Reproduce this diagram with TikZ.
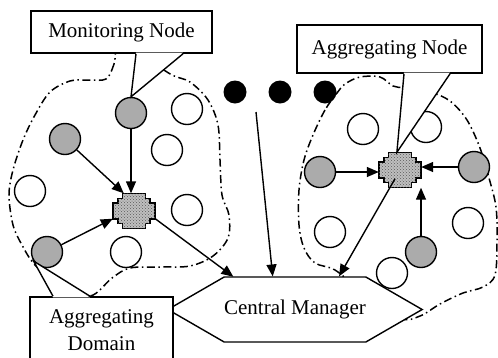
\documentclass[tikz,border=0pt]{standalone}
\usepackage{fontspec}
\setmainfont{Liberation Serif}
\usetikzlibrary{arrows.meta,shapes.symbols,patterns}
\begin{document}
\begin{tikzpicture}[x=1pt,y=-1pt,
  every node/.style={font=\fontsize{21}{27}\selectfont},
  conn/.style={line width=1.4pt,-{Triangle[length=12pt,width=10pt]}},
  plain/.style={circle,draw,line width=1.4pt,fill=white,minimum size=31pt,inner sep=0pt},
  active/.style={plain,fill=black!33},
  blackdot/.style={circle,fill=black,minimum size=23pt,inner sep=0pt},
  crossnode/.style={minimum width=42pt,minimum height=35pt,inner sep=0pt},
  labelbox/.style={draw,line width=1.6pt,fill=white,inner sep=0pt},
  domainline/.style={line width=1.5pt,dash pattern=on 8pt off 3.5pt on 1.5pt off 3.5pt},
  crossbody/.style={draw,line width=1.4pt,fill=black!25,postaction={pattern=crosshatch dots,pattern color=black!65}},
  ptr/.style={line width=1.4pt}
]
\useasboundingbox (0,0) rectangle (498,357);
\clip (0,0) rectangle (498,357);

% domain boundaries
\draw[domainline] plot[smooth cycle,tension=0.55] coordinates {(118,45) (114,64) (106,79) (88,80) (70,81) (50,92) (35,115) (23,140) (13,170) (9,195) (13,225) (22,245) (35,265) (60,285) (90,296) (112,278) (130,268) (160,267) (190,266) (213,256) (228,238) (229,215) (222,195) (220,160) (218,125) (208,100) (190,82) (172,75) (150,60) (135,45)};
\draw[domainline] plot[smooth cycle,tension=0.55] coordinates {(337,93) (325,110) (313,135) (304,160) (299,190) (299,225) (304,248) (315,263) (335,270) (360,290) (400,318) (420,316) (440,304) (463,293) (483,287) (495,275) (497,240) (496,207) (489,178) (480,148) (467,120) (450,101) (430,92) (405,88) (393,86) (380,77) (360,77) (345,84)};

% nodes
\node[active] (mon) at (131,113) {};
\node[active] (g1) at (65,139) {};
\node[active] (g2) at (47,252) {};
\node[active] (g3) at (320,172) {};
\node[active] (g4) at (474,167) {};
\node[active] (g5) at (421,252) {};
\node[plain] (w1) at (187,109) {};
\node[plain] (w2) at (167,150) {};
\node[plain] (w3) at (30,191) {};
\node[plain] (w4) at (187,210) {};
\node[plain] (w5) at (126,252) {};
\node[plain] (w6) at (363,129) {};
\node[plain] (w7) at (426,127) {};
\node[plain] (w8) at (330,232) {};
\node[plain] (w9) at (468,223) {};
\node[plain] (w10) at (392,273) {};
\node[blackdot] (d1) at (235,92) {};
\node[blackdot] (d2) at (280,92) {};
\node[blackdot] (d3) at (325,92) {};

% aggregating nodes (crosses)
\node[crossnode] (ac1) at (134,211) {};
\node[crossnode] (ac2) at (400,170) {};
\foreach \c in {ac1,ac2}
  \path[crossbody,shift={(\c)}] (-11.5,-17.5) -- (11.5,-17.5) -- (11.5,-12.5) -- (16,-12.5) -- (16,-8) -- (21,-8) -- (21,8) -- (16,8) -- (16,12.5) -- (11.5,12.5) -- (11.5,17.5) -- (-11.5,17.5) -- (-11.5,12.5) -- (-16,12.5) -- (-16,8) -- (-21,8) -- (-21,-8) -- (-16,-8) -- (-16,-12.5) -- (-11.5,-12.5) -- cycle;

% central manager
\node[draw,line width=1.4pt,fill=white,signal,signal to=west and east,signal pointer angle=60,minimum width=240pt,minimum height=65pt,inner sep=0pt] (cm) at (295,309.5) {Central Manager};

% connectors
\coordinate (top) at (256,112);
\draw[conn] (mon) -- (mon |- ac1.north);
\draw[conn] (g1) -- (ac1.120);
\draw[conn] (g2) -- (ac1.200);
\draw[conn] (ac1.-20) -- (cm.152);
\draw[conn] (top) -- (cm.124);
\draw[conn,shorten <=10pt] (ac2.center) -- (cm.37);
\draw[conn] (g3) -- (g3 -| ac2.west);
\draw[conn] (g4) -- (g4 -| ac2.east);
\draw[conn] (g5) -- (g5 |- ac2.south);

% callouts
\node[labelbox,minimum width=181pt,minimum height=42pt] (monbox) at (121.5,32) {Monitoring Node};
\fill[white] ([xshift=14.5pt,yshift=1.2pt]monbox.south) -- ([xshift=61.5pt,yshift=1.2pt]monbox.south) -- (mon.north) -- cycle;
\draw[ptr] ([xshift=14.5pt]monbox.south) -- (mon.north) -- ([xshift=61.5pt]monbox.south);

\node[labelbox,minimum width=185pt,minimum height=48pt] (aggbox) at (389.5,49) {Aggregating Node};
\fill[white] ([xshift=14.5pt,yshift=1.2pt]aggbox.south) -- ([xshift=60.5pt,yshift=1.2pt]aggbox.south) -- (ac2.100) -- cycle;
\draw[ptr] ([xshift=14.5pt]aggbox.south) -- (ac2.100) -- ([xshift=60.5pt]aggbox.south);

\node[labelbox,minimum width=143pt,minimum height=73pt] (dombox) at (101.5,333.5) {};
\node[align=center,inner sep=0pt] (domtext) at (101.5,330) {Aggregating\\Domain};
\fill[white] ([xshift=-48.5pt,yshift=-1.2pt]dombox.north) -- ([xshift=-11.5pt,yshift=-1.2pt]dombox.north) -- (g2.214) -- cycle;
\draw[ptr] ([xshift=-48.5pt]dombox.north) -- (g2.214) -- ([xshift=-11.5pt]dombox.north);
\end{tikzpicture}
\end{document}
